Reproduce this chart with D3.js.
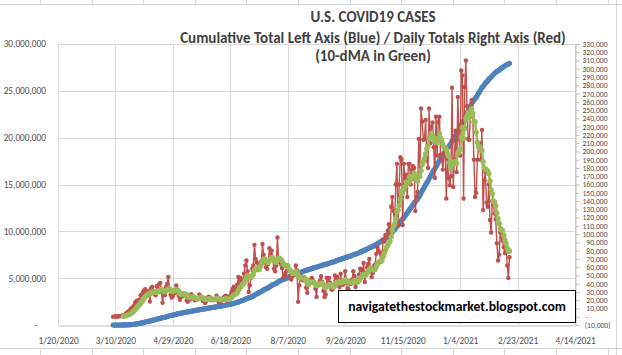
<!DOCTYPE html>
<html><head><meta charset="utf-8">
<script src="https://cdn.jsdelivr.net/npm/d3@7"></script>
<style>body{margin:0;background:#fff}svg{display:block}</style>
</head><body>
<svg id="c" width="622" height="355"></svg>
<script>
// ---------- DATA (daily new U.S. cases, thousands) ----------
const firstDay = "2020-03-08";
const mar2020 = [0.1,0.1,0.2,0.3,0.4,0.5,0.7,0.9,1.2,1.8,2.6,3.5,4.9,6.2,7.1,8.7,10.5,11.1,13.1,17.0,18.7,19.5,19.9,20.5];
const apr2020 = [26.1,27.1,29.9,32.1,33.3,28.2,29.6,31.0,18.5,34.4,36.1,30.4,27.6,25.9,37.0,30.2,39.5,41.0,30.0,17.0,28.7,26.1,36.0,40.0,48.0,34.3,26.6,23.1,25.0,28.4];
const may2020 = [30.0,38.0,29.3,25.5,20.6,24.2,24.6,28.0,27.3,25.5,19.7,18.0,22.4,20.8,27.2,25.5,23.9,19.9,22.0,21.0,22.0,27.1,24.1,22.1,19.2,19.7,16.5,19.1,22.6,24.3,23.7];
const jun2020 = [19.8,22.2,20.4,20.1,21.5,25.4,22.8,17.5,17.9,18.7,21.3,22.9,24.5,25.4,19.3,20.0,23.6,26.1,30.0,33.6,36.3,30.1,33.5,38.9,48.0,40.9,46.9,44.2,41.2,52.0];
const jul2020 = [62,68,55,30,38,47,58,62,87,70,66,58,57,64,67,88,75,66,60,58,64,83,72,80,68,58,55,62,96,68,66];
const aug2020 = [64,59,47,50,53,56,60,58,48,45,50,54,53,62,56,18,38,50,46,44,48,44,35,29,38,42,45,47,43,42,34];
const sep2020 = [24,40,38,44,49,42,31,24,27,47,37,47,41,33,33,38,50,44,48,42,36,52,39,39,44,55,41,34,32,43];
const oct2020 = [40,45,55,49,36,42,45,51,58,57,55,65,42,53,60,64,70,57,48,53,61,63,76,84,80,78,67,74,93,91,99];
const nov2020 = [96,104,112,99,133,145,128,112,160,185,111,160,193,190,111,185,165,172,145,185,185,160,178,182,180,128,145,151,215,175];
const dec2020 = [252,236,214,215,238,190,180,252,210,230,235,205,168,242,195,236,242,196,190,178,198,200,143,191,168,159,170,277,157,190,225];
const jan2021 = [175,266,215,195,298,292,143,278,310,255,215,214,248,262,242,190,145,150,190,205,210,190,226,129,165,175,138,133,160,117,102];
const feb2021 = [140,135,125,118,89,68,75,102,96,92,84,77,88,62,47,72];
const maWindow = 10;

const xTickLabels = ["1/20/2020","3/10/2020","4/29/2020","6/18/2020","8/7/2020","9/26/2020","11/15/2020","1/4/2021","2/23/2021","4/14/2021"];
const leftTicks = [0,5000000,10000000,15000000,20000000,25000000,30000000];
const rightTicks = d3.range(-10000, 330001, 10000);
const titleLines = ["U.S. COVID19 CASES","Cumulative Total Left Axis (Blue) / Daily Totals Right Axis (Red)","(10-dMA in Green)"];
const watermark = "navigatethestockmarket.blogspot.com";

// ---------- derived series ----------
const dailyK = [].concat(mar2020,apr2020,may2020,jun2020,jul2020,aug2020,sep2020,oct2020,nov2020,dec2020,jan2021,feb2021);
const daily = dailyK.map(v => v*1000);
const parse = d3.timeParse("%Y-%m-%d");
const d0 = parse(firstDay);
const dates = daily.map((_, i) => d3.timeDay.offset(d0, i));
const cum = Array.from(d3.cumsum(daily));
const pts = daily.map((v,i) => ({d:dates[i], v, c:cum[i],
  m: i >= maWindow-1 ? d3.mean(daily.slice(i-maWindow+1, i+1)) : null}));
const maPts = pts.filter(p => p.m !== null);

// ---------- chart ----------
const svg = d3.select("#c");
const W = 622, H = 355;
const pl = 58, pr = 575, pt = 44, pb = 325;
const fmtDate = d3.timeFormat("%-m/%-d/%Y");
const pDate = d3.timeParse("%-m/%-d/%Y");
const xTicks = xTickLabels.map(pDate);
const x = d3.scaleTime().domain([xTicks[0], xTicks[xTicks.length-1]]).range([pl, pr]);
const yL = d3.scaleLinear().domain([0, 30000000]).range([pb, pt]);
const yR = d3.scaleLinear().domain([-10000, 330000]).range([pb, pt]);

svg.append("rect").attr("width",W).attr("height",H).attr("fill","#fff");

// spreadsheet frame remnants
const frame = svg.append("g").attr("stroke","#d6d6d6").attr("stroke-width",1);
frame.append("line").attr("x1",0).attr("x2",W).attr("y1",4.5).attr("y2",4.5);
frame.append("line").attr("x1",0).attr("x2",W).attr("y1",348.5).attr("y2",348.5);
frame.append("line").attr("x1",616.5).attr("x2",616.5).attr("y1",0).attr("y2",H);
d3.range(0,12).forEach(k => {
  const xx = Math.round(40 + 51.6*k) + 0.5;
  frame.append("line").attr("x1",xx).attr("x2",xx).attr("y1",0).attr("y2",4);
  frame.append("line").attr("x1",xx).attr("x2",xx).attr("y1",349).attr("y2",H);
});

// gridlines
const grid = svg.append("g").attr("stroke","#d9d9d9").attr("stroke-width",1);
leftTicks.filter(t => t>0).forEach(t => grid.append("line")
  .attr("x1",pl).attr("x2",pr).attr("y1",Math.round(yL(t))+0.5).attr("y2",Math.round(yL(t))+0.5));
xTicks.forEach(t => grid.append("line")
  .attr("x1",Math.round(x(t))+0.5).attr("x2",Math.round(x(t))+0.5).attr("y1",pt).attr("y2",pb));

const FONT = "Carlito, Lato, 'Liberation Sans', sans-serif";
const AX = "#4d4d4d";

// bottom axis
const gx = svg.append("g").attr("transform",`translate(0,${pb+0.5})`)
  .call(d3.axisBottom(x).tickValues(xTicks).tickFormat(fmtDate).tickSize(0).tickPadding(12));
gx.select(".domain").attr("stroke","#bfbfbf");
gx.selectAll("text").attr("font-family",FONT).attr("font-size",9.3).attr("fill",AX);

// left axis
const gl = svg.append("g").attr("transform",`translate(${pl},0)`)
  .call(d3.axisLeft(yL).tickValues(leftTicks).tickFormat(d => d===0 ? "-" : d3.format(",")(d)).tickSize(0).tickPadding(12));
gl.select(".domain").remove();
gl.selectAll("text").attr("font-family",FONT).attr("font-size",9.3).attr("fill",AX)
  .attr("dx", d => d===0 ? -9 : 0);

// right axis
const acct = d => d===0 ? "-" : (d<0 ? "(" + d3.format(",")(-d) + ")" : d3.format(",")(d));
const gr = svg.append("g").attr("transform",`translate(${pr+0.5},0)`)
  .call(d3.axisRight(yR).tickValues(rightTicks).tickFormat(acct).tickSize(4));
gr.select(".domain").attr("stroke","#bfbfbf");
gr.selectAll(".tick line").attr("stroke","#bfbfbf");
gr.selectAll("text").attr("font-family",FONT).attr("font-size",7.6).attr("fill",AX)
  .attr("text-anchor", d => d===0 ? "start" : "end")
  .attr("x", d => d===0 ? 10 : (d<0 ? 35 : 32));

// series: cumulative (blue, left axis)
const BLUE = "#4f81bd", RED = "#c0504d", GREEN = "#9bbb59";
svg.append("path").datum(pts).attr("fill","none").attr("stroke",BLUE).attr("stroke-width",2.5)
  .attr("d", d3.line().x(p => x(p.d)).y(p => yL(p.c)));
svg.append("g").selectAll("circle").data(pts).join("circle")
  .attr("cx", p => x(p.d)).attr("cy", p => yL(p.c)).attr("r",2.6).attr("fill",BLUE);

// daily (red, right axis)
svg.append("path").datum(pts).attr("fill","none").attr("stroke",RED).attr("stroke-width",1.4)
  .attr("d", d3.line().x(p => x(p.d)).y(p => yR(p.v)));
svg.append("g").selectAll("circle").data(pts).join("circle")
  .attr("cx", p => x(p.d)).attr("cy", p => yR(p.v)).attr("r",2.2).attr("fill",RED);

// 10-day moving average (green, right axis)
svg.append("path").datum(maPts).attr("fill","none").attr("stroke",GREEN).attr("stroke-width",2.5)
  .attr("d", d3.line().x(p => x(p.d)).y(p => yR(p.m)));
svg.append("g").selectAll("circle").data(maPts).join("circle")
  .attr("cx", p => x(p.d)).attr("cy", p => yR(p.m)).attr("r",2.7).attr("fill",GREEN);

// title
const tY = [22, 43, 61];
const tg = svg.append("g").attr("font-family",FONT).attr("font-weight","bold").attr("fill","#404040").attr("text-anchor","middle");
const tl = titleLines.map((s,i) => tg.append("text").attr("x",373).attr("y",tY[i]).attr("font-size",13).text(s));
const w2 = tl[1].node().getComputedTextLength();
const fs = 13 * 386 / w2;
tl.forEach(t => t.attr("font-size", fs));

// watermark box
svg.append("rect").attr("x",338.5).attr("y",290.5).attr("width",237).attr("height",32)
  .attr("fill","#fff").attr("stroke","#000").attr("stroke-width",1);
const wm = svg.append("text").attr("x",457).attr("y",311).attr("text-anchor","middle")
  .attr("font-family",FONT).attr("font-weight","bold").attr("font-size",13).attr("fill","#000").text(watermark);
const ww = wm.node().getComputedTextLength();
wm.attr("font-size", 13*218/ww);
</script>
</body></html>
